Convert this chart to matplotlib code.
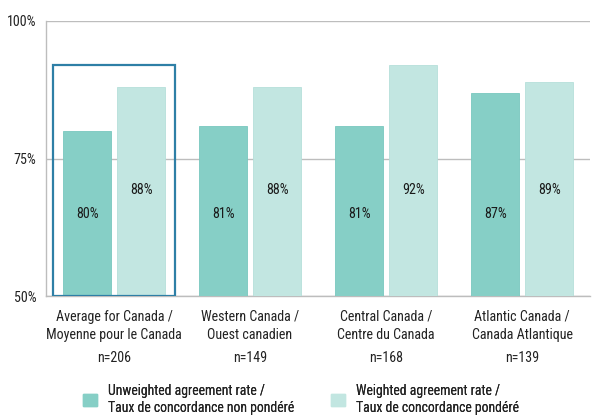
import matplotlib.pyplot as plt
import matplotlib.patches as mpatches
from matplotlib import font_manager
import numpy as np

# 데이터
regions = ["Average for Canada /\nMoyenne pour le Canada",
           "Western Canada /\nOuest canadien",
           "Central Canada /\nCentre du Canada",
           "Atlantic Canada /\nCanada Atlantique"]
n_counts = ["n=206", "n=149", "n=168", "n=139"]
unweighted = [80, 81, 81, 87]
weighted = [88, 88, 92, 89]
series_names = ["Unweighted agreement rate /\nTaux de concordance non pondéré",
                "Weighted agreement rate /\nTaux de concordance pondéré"]

# 좁은 글꼴이 있으면 사용
names = {f.name for f in font_manager.fontManager.ttflist}
font = "Liberation Sans"
fs = 8.6
for cand in ["Liberation Sans Narrow", "Roboto Condensed", "Open Sans Condensed",
             "DejaVu Sans Condensed"]:
    if cand in names:
        font = cand
        fs = 10.5 if "Narrow" in cand else 9.5
        break
plt.rcParams['font.family'] = [font, 'DejaVu Sans']

c_unw = "#86cfc6"
c_w = "#c2e6e1"
grid_c = "#bdbdbd"
txt_c = "#222222"

fig = plt.figure(figsize=(6, 4.2), dpi=100)
ax = fig.add_axes([46 / 600, 1 - 296 / 420, 544 / 600, 275 / 420])

x = np.arange(len(regions))
w = 0.353
ax.bar(x - 0.197, [v - 50 for v in unweighted], w, bottom=50, color=c_unw,
       edgecolor="#79c8bf", linewidth=0.6, zorder=3)
ax.bar(x + 0.2, [v - 50 for v in weighted], w, bottom=50, color=c_w,
       edgecolor="#b6e0da", linewidth=0.6, zorder=3)

for i in range(len(regions)):
    ax.text(x[i] - 0.197, 65, f"{unweighted[i]}%", ha="center", va="center",
            fontsize=fs + 0.6, color="#1a1a1a", zorder=4)
    ax.text(x[i] + 0.2, 69.3, f"{weighted[i]}%", ha="center", va="center",
            fontsize=fs + 0.6, color="#1a1a1a", zorder=4)

# 평균 강조 박스
ax.add_patch(mpatches.Rectangle((-0.449, 50), 0.898, 42, fill=False,
                                edgecolor="#2e7fa6", linewidth=1.6, zorder=5))

ax.set_xlim(-0.5, 3.5)
ax.set_ylim(50, 100)
ax.set_yticks([50, 75, 100])
ax.set_yticklabels(["50%", "75%", "100%"], fontsize=fs + 0.6, color=txt_c)
ax.tick_params(axis="y", length=0, pad=7)
ax.set_xticks(x)
ax.set_xticklabels(regions, fontsize=fs + 0.6, color=txt_c, linespacing=1.35)
ax.tick_params(axis="x", length=0, pad=10)
for i in range(len(regions)):
    ax.text(x[i], -0.225, n_counts[i], transform=ax.get_xaxis_transform(),
            ha="center", va="center", fontsize=fs + 0.6, color=txt_c)

ax.grid(axis="y", color=grid_c, linewidth=1.0, zorder=0)
for s in ["top", "right"]:
    ax.spines[s].set_visible(False)
for s in ["left", "bottom"]:
    ax.spines[s].set_color(grid_c)
    ax.spines[s].set_linewidth(1.0)

# 범례 두 개를 따로 배치
for k, (col, xpos) in enumerate([(c_unw, 71 / 600), (c_w, 319 / 600)]):
    leg = fig.legend([mpatches.Patch(color=col)], [series_names[k]], loc="lower left",
                     bbox_to_anchor=(xpos, -7 / 420), frameon=False, fontsize=fs + 0.4,
                     handlelength=1.0, handleheight=1.0, handletextpad=0.8,
                     labelcolor=txt_c)
    fig.add_artist(leg)

fig.savefig("out.png", dpi=100)
